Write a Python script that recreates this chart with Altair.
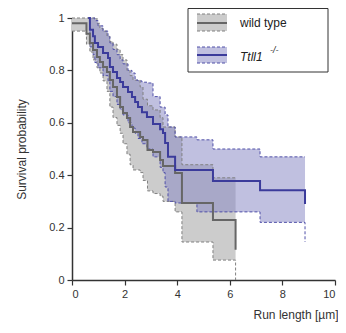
import altair as alt
import pandas as pd

# ---- wild type (gray) Kaplan-Meier estimate and confidence band ----
gx = [0.00, 0.55, 0.68, 0.80, 0.95, 1.06, 1.18, 1.33, 1.44, 1.56, 1.71, 1.83, 1.94, 2.09,
      2.21, 2.32, 2.59, 2.70, 2.87, 3.08, 3.35, 3.46, 3.92, 4.18, 5.36, 6.22]
gy = [0.98, 0.94, 0.905, 0.878, 0.851, 0.832, 0.813, 0.794, 0.763, 0.737, 0.698, 0.660, 0.637, 0.618,
      0.584, 0.565, 0.546, 0.534, 0.496, 0.489, 0.458, 0.435, 0.408, 0.294, 0.229, 0.115]
glo = [0.95, 0.90, 0.87, 0.84, 0.81, 0.79, 0.76, 0.72, 0.66, 0.62, 0.59, 0.56, 0.52, 0.48,
       0.44, 0.42, 0.41, 0.38, 0.34, 0.33, 0.32, 0.30, 0.26, 0.145, 0.076, 0.0]
ghi = [1.0, 1.0, 1.0, 1.0, 0.98, 0.96, 0.95, 0.93, 0.91, 0.90, 0.88, 0.86, 0.84, 0.80,
       0.78, 0.763, 0.737, 0.69, 0.665, 0.649, 0.62, 0.584, 0.546, 0.44, 0.39, 0.39]

# ---- Ttll1-/- (blue) ----
bx = [0.62, 0.68, 0.80, 0.87, 0.99, 1.18, 1.37, 1.44, 1.56, 1.71, 1.83, 1.94, 2.13, 2.28,
      2.40, 2.51, 2.66, 2.85, 3.08, 3.35, 3.46, 3.54, 3.65, 3.92, 4.75, 5.36, 7.15, 8.86]
by = [1.00, 0.955, 0.93, 0.905, 0.889, 0.866, 0.847, 0.813, 0.794, 0.771, 0.756, 0.737, 0.718, 0.698,
      0.679, 0.660, 0.640, 0.622, 0.595, 0.575, 0.561, 0.523, 0.47, 0.42, 0.42, 0.378, 0.343, 0.29]
blo = [1.00, 0.89, 0.86, 0.83, 0.81, 0.78, 0.76, 0.72, 0.70, 0.67, 0.65, 0.63, 0.60, 0.58,
       0.56, 0.54, 0.52, 0.50, 0.47, 0.43, 0.41, 0.355, 0.30, 0.294, 0.26, 0.26, 0.22, 0.145]
bhi = [1.00, 1.00, 1.00, 0.99, 0.97, 0.95, 0.93, 0.905, 0.88, 0.86, 0.84, 0.825, 0.80, 0.79,
       0.763, 0.76, 0.755, 0.752, 0.70, 0.66, 0.66, 0.63, 0.584, 0.546, 0.535, 0.50, 0.47, 0.47]

x_ticks = list(range(0, 11))
y_ticks = [i / 10 for i in range(0, 11)]

FONT = "Liberation Sans"
GRAY_LINE = "#666666"
GRAY_FILL = "#cccccc"
GRAY_DASH = "#808080"
BLUE_LINE = "#3b3b9b"
BLUE_FILL = "#8888c4"
BLUE_DASH = "#5050a8"

gdf = pd.DataFrame({"x": gx, "y": gy, "lo": glo, "hi": ghi})
bdf = pd.DataFrame({"x": bx, "y": by, "lo": blo, "hi": bhi})

xs = alt.Scale(domain=[0, 10], nice=False)
ys = alt.Scale(domain=[0, 1], nice=False)

xaxis = alt.Axis(values=x_ticks, labelExpr="datum.value % 2 == 0 ? datum.label : ''",
                 title="Run length [µm]", titleAnchor="end", titleAlign="right",
                 titlePadding=10, titleX=266, grid=False, tickSize=5, labelPadding=3)
yaxis = alt.Axis(values=y_ticks,
                 labelExpr="round(datum.value*10) % 2 == 0 ? format(datum.value, '~g') : ''",
                 title="Survival probability", titleAngle=-90, titleX=-51, titleY=131,
                 titleAlign="center", titleBaseline="middle", grid=False, tickSize=5, labelPadding=3)

X = alt.X("x:Q", scale=xs, axis=xaxis)
Xn = alt.X("x:Q", scale=xs)


def band(df, fill, opacity):
    return alt.Chart(df).mark_area(interpolate="step-after", color=fill, opacity=opacity).encode(
        x=Xn, y=alt.Y("hi:Q", scale=ys), y2="lo:Q")


def dashed(df, field, color):
    return alt.Chart(df).mark_line(interpolate="step-after", color=color, strokeWidth=1,
                                   strokeDash=[3, 2]).encode(x=Xn, y=alt.Y(f"{field}:Q", scale=ys))


def km(df, color):
    return alt.Chart(df).mark_line(interpolate="step-after", color=color, strokeWidth=2).encode(
        x=Xn, y=alt.Y("y:Q", scale=ys))


axes_layer = alt.Chart(gdf).mark_point(opacity=0).encode(x=X, y=alt.Y("y:Q", scale=ys, axis=yaxis))

one = pd.DataFrame({"a": [0]})
leg = alt.Chart(one)
legend = [
    leg.mark_rect(fill="white", stroke="#333333", strokeWidth=1).encode(
        x=alt.value(116), x2=alt.value(256), y=alt.value(-9.5), y2=alt.value(54)),
    leg.mark_rect(fill=GRAY_FILL).encode(x=alt.value(125), x2=alt.value(155), y=alt.value(-4), y2=alt.value(13)),
    leg.mark_rule(color=GRAY_DASH, strokeDash=[3, 2]).encode(x=alt.value(125), x2=alt.value(155), y=alt.value(-4)),
    leg.mark_rule(color=GRAY_DASH, strokeDash=[3, 2]).encode(x=alt.value(125), x2=alt.value(155), y=alt.value(13)),
    leg.mark_rule(color=GRAY_LINE, strokeWidth=2).encode(x=alt.value(125), x2=alt.value(155), y=alt.value(5)),
    leg.mark_rect(fill=BLUE_FILL, opacity=0.53).encode(x=alt.value(125), x2=alt.value(155), y=alt.value(29), y2=alt.value(45)),
    leg.mark_rule(color=BLUE_DASH, strokeDash=[3, 2]).encode(x=alt.value(125), x2=alt.value(155), y=alt.value(29)),
    leg.mark_rule(color=BLUE_DASH, strokeDash=[3, 2]).encode(x=alt.value(125), x2=alt.value(155), y=alt.value(45)),
    leg.mark_rule(color=BLUE_LINE, strokeWidth=2).encode(x=alt.value(125), x2=alt.value(155), y=alt.value(37)),
    leg.mark_text(text="wild type", align="left", baseline="middle", fontSize=12, font=FONT, color="#222222").encode(
        x=alt.value(168), y=alt.value(5)),
    leg.mark_text(text="Ttll1", align="left", baseline="middle", fontSize=12, font=FONT, fontStyle="italic",
                  color="#222222").encode(x=alt.value(168), y=alt.value(39)),
    leg.mark_text(text="-/-", align="left", baseline="middle", fontSize=9, font=FONT, fontStyle="italic",
                  color="#222222").encode(x=alt.value(198), y=alt.value(32)),
]

chart = alt.layer(
    axes_layer,
    band(gdf, GRAY_FILL, 1.0),
    band(bdf, BLUE_FILL, 0.53),
    dashed(gdf, "hi", GRAY_DASH),
    dashed(gdf, "lo", GRAY_DASH),
    dashed(bdf, "hi", BLUE_DASH),
    dashed(bdf, "lo", BLUE_DASH),
    km(gdf, GRAY_LINE),
    km(bdf, BLUE_LINE),
    *legend,
).properties(
    width=263, height=262,
    autosize=alt.AutoSizeParams(type="none"),
    padding={"left": 64, "top": 10, "right": 3, "bottom": 45},
).configure_view(stroke=None).configure_axis(
    domainColor="#333333", domainWidth=1.5, tickColor="#333333", tickWidth=1.2,
    labelFont=FONT, labelFontSize=11, labelColor="#333333",
    titleFont=FONT, titleFontSize=12, titleColor="#333333", titleFontWeight="normal",
)

chart.save("out.html", embed_options={"renderer": "svg", "actions": False})
